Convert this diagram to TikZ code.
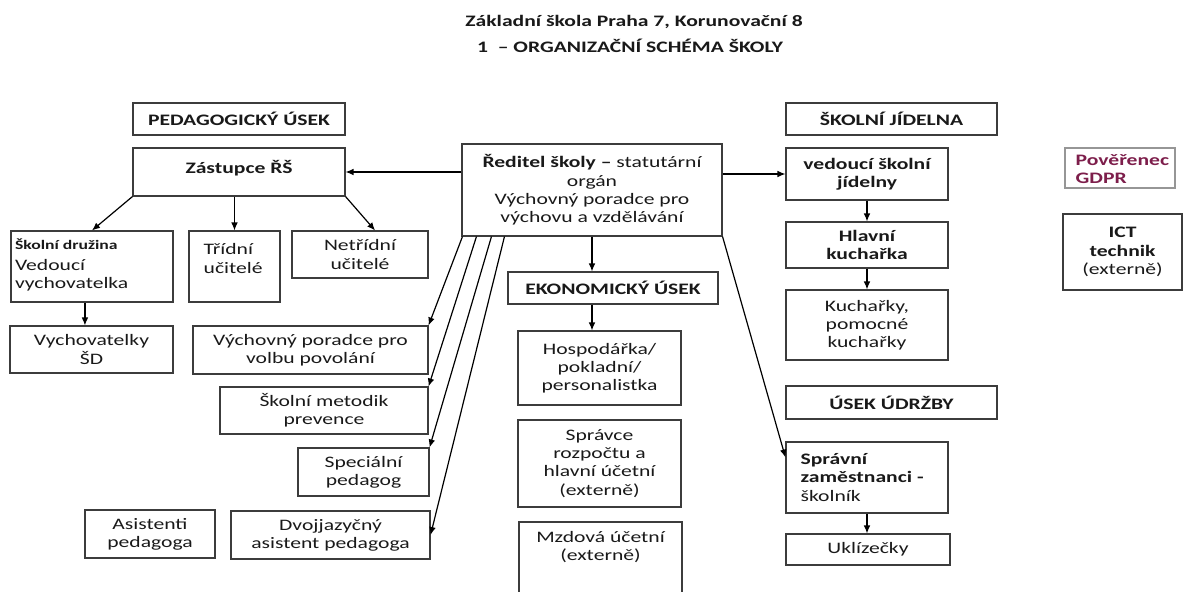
\documentclass[tikz,border=0pt]{standalone}
\usepackage{fontspec}
\setmainfont[FakeStretch=1.35]{Carlito}
\usetikzlibrary{arrows.meta,calc}
\definecolor{boxgray}{RGB}{60,60,60}
\definecolor{textc}{RGB}{25,25,25}
\definecolor{gdprc}{RGB}{125,30,75}
\definecolor{gdprbox}{RGB}{150,150,150}
\tikzset{
  box/.style={draw=boxgray, line width=0.8pt, inner xsep=3pt, inner ysep=2pt, text=textc},
  arr/.style={draw=black, line width=0.9pt, -{Latex[length=6pt,width=5pt]}},
}
\newcommand\orgbox[8][]{%
  \pgfmathsetlengthmacro\obw{(#5-#3)*0.75pt-6pt}%
  \pgfmathsetlengthmacro\obh{(#6-#4)*0.75pt-4pt}%
  \node[box,#1] (#2) at ({(#3+#5)/2},{(#4+#6)/2}) {\parbox[c][\obh][#7]{\obw}{#8}};%
}
\begin{document}
\begin{tikzpicture}[x=0.75pt,y=-0.75pt,font=\fontsize{12}{13.7}\selectfont]
\useasboundingbox (0,0) rectangle (1184,592);
\node[font=\bfseries\fontsize{12}{14}\selectfont, text=textc] (t1) at (634,22) {Základní škola Praha 7, Korunovační 8};
\node[font=\bfseries\fontsize{12}{14}\selectfont, text=textc] (t2) at (630,46) {1 \ – ORGANIZAČNÍ SCHÉMA ŠKOLY};

\orgbox{ped}{133}{103}{345}{135}{c}{\centering\bfseries PEDAGOGICKÝ ÚSEK}
\orgbox{zas}{133}{148}{345}{196}{t}{\vspace*{7pt}\centering\bfseries Zástupce ŘŠ}
\orgbox{sd}{11}{231}{173}{302}{t}{\vspace*{4pt}\raggedright{\fontsize{9.8}{12}\selectfont\bfseries Školní družina}\\[1.5pt]Vedoucí\\vychovatelka}
\orgbox{tu}{189}{231}{280}{302}{t}{\vspace*{7.5pt}\raggedright\leftskip=8pt Třídní\\učitelé}
\orgbox{ntu}{292}{231}{428}{278}{c}{\centering Netřídní\\učitelé}
\orgbox{vsd}{10}{326}{173}{373}{c}{\centering Vychovatelky\\ŠD}
\orgbox{vpp}{193}{326}{428}{374}{c}{\centering Výchovný poradce pro\\volbu povolání}
\orgbox{smp}{220}{387}{428}{434}{c}{\centering Školní metodik\\prevence}
\orgbox{sp}{298}{448}{429}{496}{c}{\centering Speciální\\pedagog}
\orgbox{ap}{85}{510}{215}{558}{c}{\centering Asistenti\\pedagoga}
\orgbox{dv}{231}{511}{430}{559}{c}{\centering Dvojjazyčný\\asistent pedagoga}
\orgbox{red}{462}{144}{722}{236}{c}{\centering\textbf{Ředitel školy –} statutární\\orgán\\Výchovný poradce pro\\výchovu a vzdělávání}
\orgbox{eko}{508}{272}{718}{304}{c}{\centering\bfseries EKONOMICKÝ ÚSEK}
\orgbox{hosp}{518}{331}{681}{405}{c}{\centering Hospodářka/\\pokladní/\\personalistka}
\orgbox{sprv}{518}{420}{681}{507}{c}{\centering Správce\\rozpočtu a\\hlavní účetní\\(externě)}
\orgbox{mzd}{519}{522}{682}{600}{t}{\vspace*{5pt}\centering Mzdová účetní\\(externě)}
\orgbox{sjh}{786}{103}{997}{135}{c}{\centering\bfseries ŠKOLNÍ JÍDELNA}
\orgbox{vsj}{786}{148}{948}{200}{c}{\centering\bfseries vedoucí školní\\jídelny}
\orgbox{hk}{786}{222}{948}{268}{c}{\centering\bfseries Hlavní\\kuchařka}
\orgbox{kuch}{786}{290}{948}{360}{c}{\centering Kuchařky,\\pomocné\\kuchařky}
\orgbox{udr}{786}{386}{997}{419}{c}{\centering\bfseries ÚSEK ÚDRŽBY}
\orgbox{spr}{786}{442}{948}{513}{c}{\raggedright\leftskip=8pt\textbf{Správní\\zaměstnanci -}\\školník}
\orgbox{ukl}{786}{534}{950}{565}{c}{\centering Uklízečky}
\orgbox[draw=gdprbox]{gdpr}{1065}{148}{1175}{188}{c}{\vspace*{2pt}\raggedright\leftskip=5pt\color{gdprc}\bfseries Pověřenec\\GDPR}
\orgbox{ict}{1063}{214}{1182}{290}{c}{\centering\textbf{ICT\\technik}\\(externě)}

\draw[arr] (red.west |- zas.east) -- (zas.east);
\draw[arr] (red.east |- vsj.west) -- (vsj.west);
\draw[arr] (zas.south west) -- (sd.north);
\draw[arr] (tu.north |- zas.south) -- (tu.north);
\draw[arr] (zas.south east) -- ($(ntu.north west)!0.61!(ntu.north east)$);
\coordinate (c1) at ($(vsd.north west)!0.46!(vsd.north east)$);
\draw[arr] (c1 |- sd.south) -- (c1);
\draw[arr] (red.south) -- (red.south |- eko.north);
\draw[arr] (red.south |- eko.south) -- (red.south |- hosp.north);
\draw[arr] (vsj.south) -- (hk.north);
\draw[arr] (hk.south) -- (kuch.north);
\draw[arr] (spr.south) -- (spr.south |- ukl.north);
\draw[arr] ($(red.south west)+(1,0)$) -- (vpp.north east);
\draw[arr] ($(red.south west)+(15,0)$) -- (smp.north east);
\draw[arr] ($(red.south west)+(30,0)$) -- (sp.north east);
\draw[arr] ($(red.south west)+(43,0)$) -- (dv.east);
\draw[arr] (red.south east) -- ($(spr.north west)+(0,16)$);
\end{tikzpicture}
\end{document}
